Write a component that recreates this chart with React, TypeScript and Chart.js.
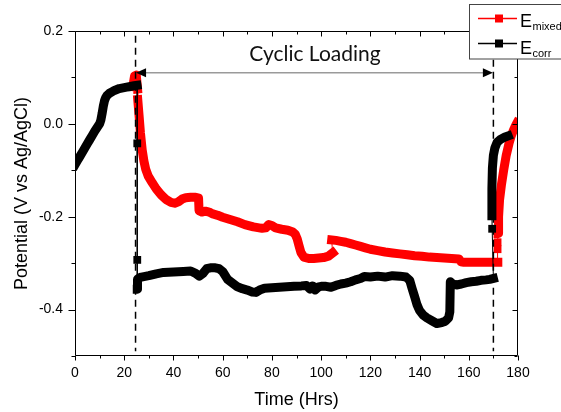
import React, { useEffect, useRef } from "react";
import { Chart, registerables } from "chart.js";

Chart.register(...registerables);

// ---------- axes ----------
const X_TICKS = [0, 20, 40, 60, 80, 100, 120, 140, 160, 180];
const X_MINOR = [10, 30, 50, 70, 90, 110, 130, 150, 170];
const Y_TICKS = [-0.4, -0.2, 0.0, 0.2];
const Y_MINOR = [-0.5, -0.3, -0.1, 0.1];
const X_MIN = 0;
const X_MAX = 180;
const Y_MIN = -0.5;
const Y_MAX = 0.2;

// ---------- annotations ----------
const LOAD_START = 24.6;
const LOAD_END = 170;
const DASH_TOP = 0.19;
const DASH_BOTTOM = -0.49;
const ARROW_Y = 0.11;
const LABEL_X = 97.5;
const LABEL_Y = 0.151;
const LABEL_TEXT = "Cyclic Loading";

// ---------- E_corr (black) ----------
const corrT1 = [0, 1, 2, 3, 4, 5, 6, 7, 8, 9, 10, 10.5, 11, 11.5, 12, 12.5, 13, 14, 15, 16, 17, 18, 19, 20, 21, 22, 23, 24, 25.2];
const corrV1 = [-0.088, -0.079, -0.07, -0.061, -0.052, -0.043, -0.034, -0.025, -0.016, -0.008, 0.0, 0.008, 0.022, 0.038, 0.05, 0.057, 0.061, 0.066, 0.069, 0.072, 0.074, 0.076, 0.077, 0.078, 0.079, 0.08, 0.081, 0.082, 0.083];

const corrDropAT = [25.2, 25.3, 25.3, 25.3];
const corrDropAV = [0.083, -0.042, -0.293, -0.335];
const corrDropAMarks = [1, 2];

const corrT2 = [25.3, 25.4, 26, 27, 28, 30, 33, 36, 40, 44, 47, 49, 50.5, 52, 53.5, 55, 57, 58.5, 60, 62, 64, 66, 68, 70, 72, 73.5, 75, 77, 80, 83, 86, 89, 92, 94, 95.5, 96.5, 97.5, 99, 100, 102, 104, 106, 108, 110, 112, 114, 116, 117.5, 120, 123, 126, 129, 132, 134.5, 136, 137, 138, 139, 140, 141.5, 143, 145, 147, 149, 150.5, 151.8, 152.3, 152.5, 153.5, 155, 157, 159, 161, 163, 165, 167, 168.5, 170];
const corrV2 = [-0.356, -0.335, -0.332, -0.33, -0.329, -0.327, -0.323, -0.32, -0.319, -0.318, -0.317, -0.322, -0.328, -0.322, -0.312, -0.31, -0.31, -0.312, -0.318, -0.335, -0.343, -0.351, -0.355, -0.358, -0.362, -0.363, -0.358, -0.354, -0.353, -0.352, -0.351, -0.35, -0.349, -0.348, -0.356, -0.349, -0.358, -0.351, -0.35, -0.35, -0.352, -0.348, -0.345, -0.343, -0.34, -0.336, -0.333, -0.329, -0.33, -0.328, -0.33, -0.327, -0.328, -0.33, -0.337, -0.355, -0.372, -0.39, -0.402, -0.412, -0.418, -0.424, -0.43, -0.428, -0.425, -0.418, -0.405, -0.34, -0.345, -0.347, -0.345, -0.342, -0.34, -0.339, -0.337, -0.336, -0.335, -0.333];

const corrDropBT = [170, 169.5, 169.4];
const corrDropBV = [-0.333, -0.226, -0.198];
const corrDropBMarks = [1];

const corrT3 = [169.4, 169.4, 169.6, 170, 170.6, 171.5, 173, 174.5, 176];
const corrV3 = [-0.198, -0.14, -0.095, -0.068, -0.052, -0.04, -0.033, -0.029, -0.026];

// ---------- E_mixed (red) ----------
const mixedT1 = [23.5, 24.2, 24.9, 25.4];
const mixedV1 = [0.08, 0.103, 0.105, 0.075];

const mixedJumpAT = [25.4, 25.5];
const mixedJumpAV = [0.075, 0.052];

const mixedT2 = [25.5, 26, 26.6, 27.3, 28, 28.7, 29.7, 31.4, 33, 35, 37, 39, 40.5, 42, 43.5, 45, 47, 49, 50.2, 50.4, 51.5, 53, 54.5, 56, 58, 60, 63, 66, 69, 72.5, 76, 77.5, 78.7, 80, 81.5, 84, 86.5, 88.5, 89.5, 90.3, 91, 91.8, 93, 95, 97, 99, 101, 103, 104.7];
const mixedV2 = [0.052, 0.02, -0.02, -0.056, -0.08, -0.097, -0.112, -0.127, -0.14, -0.153, -0.163, -0.169, -0.171, -0.168, -0.162, -0.159, -0.158, -0.158, -0.16, -0.187, -0.19, -0.188, -0.19, -0.194, -0.197, -0.201, -0.206, -0.211, -0.217, -0.222, -0.225, -0.224, -0.217, -0.219, -0.224, -0.227, -0.229, -0.233, -0.238, -0.248, -0.262, -0.277, -0.287, -0.29, -0.29, -0.289, -0.288, -0.285, -0.278];

const mixedJumpBT = [104.7, 104.5, 104.3];
const mixedJumpBV = [-0.278, -0.265, -0.25];

const mixedT3 = [104.3, 106, 108, 110, 112, 114, 116, 118, 120, 123, 126, 129, 132, 135, 138, 141, 144, 147, 150, 153, 156, 156.8, 158, 161, 164, 167, 170, 171.8];
const mixedV3 = [-0.25, -0.251, -0.253, -0.255, -0.258, -0.261, -0.264, -0.267, -0.27, -0.273, -0.276, -0.278, -0.28, -0.282, -0.284, -0.285, -0.287, -0.288, -0.289, -0.29, -0.291, -0.297, -0.298, -0.298, -0.298, -0.298, -0.298, -0.298];

const mixedJumpCT = [171.8, 171.7, 171.7, 171.9];
const mixedJumpCV = [-0.298, -0.27, -0.255, -0.236];
const mixedJumpCMarks = [1, 2];

const mixedT4 = [171.9, 172.1, 172.5, 173.3, 174.2, 175.2, 176.4, 177.3, 178.2, 179, 179.6];
const mixedV4 = [-0.236, -0.2, -0.164, -0.13, -0.099, -0.068, -0.041, -0.025, -0.013, -0.004, 0.002];

// ---------- styling ----------
const RED = "#ff0000";
const BLACK = "#000000";
const FONT = "'Liberation Sans', Arial, sans-serif";
const BAND = 9;
const MARK_R = 5.5;

const pts = (t: number[], v: number[]) => t.map((x, i) => ({ x, y: v[i] }));

const dense = (t: number[], v: number[], color: string, order: number) => ({
  data: pts(t, v),
  borderColor: color,
  backgroundColor: color,
  borderWidth: BAND,
  pointRadius: 0,
  borderJoinStyle: "round",
  borderCapStyle: "square",
  tension: 0,
  fill: false,
  order,
});

const sparse = (t: number[], v: number[], marks: number[], color: string, order: number) => ({
  data: pts(t, v),
  borderColor: color,
  backgroundColor: color,
  borderWidth: 1,
  pointRadius: t.map((_, i) => (marks.includes(i) ? MARK_R : 0)),
  pointStyle: "rect",
  pointBackgroundColor: color,
  pointBorderColor: color,
  pointBorderWidth: 0,
  tension: 0,
  fill: false,
  order,
});

const decor = {
  id: "decor",
  afterDatasetsDraw(chart: any) {
    const { ctx, scales } = chart;
    const x = scales.x;
    const y = scales.y;
    ctx.save();
    ctx.strokeStyle = BLACK;
    ctx.lineWidth = 1.5;
    ctx.setLineDash([7, 5]);
    for (const t of [LOAD_START, LOAD_END]) {
      const px = x.getPixelForValue(t);
      ctx.beginPath();
      ctx.moveTo(px, y.getPixelForValue(DASH_TOP));
      ctx.lineTo(px, y.getPixelForValue(DASH_BOTTOM));
      ctx.stroke();
    }
    ctx.restore();
  },
  afterDraw(chart: any) {
    const { ctx, chartArea: ca, scales } = chart;
    const x = scales.x;
    const y = scales.y;
    ctx.save();
    // frame
    ctx.strokeStyle = BLACK;
    ctx.lineWidth = 1;
    const L = Math.round(ca.left) + 0.5;
    const R = Math.round(ca.right) - 0.5;
    const T = Math.round(ca.top) + 0.5;
    const B = Math.round(ca.bottom) - 0.5;
    ctx.beginPath();
    ctx.rect(L, T, R - L, B - T);
    ctx.stroke();
    // ticks
    ctx.beginPath();
    const xt = (vals: number[], len: number) => {
      for (const v of vals) {
        const px = Math.round(x.getPixelForValue(v)) + 0.5;
        ctx.moveTo(px, B);
        ctx.lineTo(px, B + len);
        ctx.moveTo(px, T);
        ctx.lineTo(px, T + len);
      }
    };
    const yt = (vals: number[], len: number, inLen: number) => {
      for (const v of vals) {
        const py = Math.round(y.getPixelForValue(v)) + 0.5;
        ctx.moveTo(L, py);
        ctx.lineTo(L - len, py);
        ctx.moveTo(R, py);
        ctx.lineTo(R - inLen, py);
      }
    };
    xt(X_TICKS, 5);
    xt(X_MINOR, 3);
    yt(Y_TICKS, 7, 5);
    yt(Y_MINOR, 4, 3);
    ctx.stroke();

    // arrow
    const xl = x.getPixelForValue(LOAD_START);
    const xr = x.getPixelForValue(LOAD_END);
    const ya = y.getPixelForValue(ARROW_Y);
    ctx.strokeStyle = "#9a9a9a";
    ctx.lineWidth = 1.5;
    ctx.beginPath();
    ctx.moveTo(xl + 8, ya);
    ctx.lineTo(xr - 8, ya);
    ctx.stroke();
    ctx.fillStyle = BLACK;
    ctx.beginPath();
    ctx.moveTo(xl + 0.5, ya);
    ctx.lineTo(xl + 10.5, ya - 4.5);
    ctx.lineTo(xl + 10.5, ya + 4.5);
    ctx.closePath();
    ctx.fill();
    ctx.beginPath();
    ctx.moveTo(xr - 0.5, ya);
    ctx.lineTo(xr - 10.5, ya - 4.5);
    ctx.lineTo(xr - 10.5, ya + 4.5);
    ctx.closePath();
    ctx.fill();

    // label
    ctx.fillStyle = "#111";
    ctx.font = "21px Lato, 'Open Sans', sans-serif";
    ctx.textAlign = "center";
    ctx.textBaseline = "middle";
    ctx.fillText(LABEL_TEXT, x.getPixelForValue(LABEL_X), y.getPixelForValue(LABEL_Y));

    // legend
    ctx.fillStyle = "#fff";
    ctx.fillRect(469.5, 4.5, 100, 54.5);
    ctx.strokeStyle = "#444";
    ctx.lineWidth = 1;
    ctx.strokeRect(469.5, 4.5, 100, 54.5);
    const entries = [
      { color: RED, main: "E", sub: "mixed", ly: 18.5, base: 26.5 },
      { color: BLACK, main: "E", sub: "corr", ly: 43.5, base: 53.5 },
    ];
    for (const e of entries) {
      ctx.strokeStyle = e.color;
      ctx.lineWidth = 1.3;
      ctx.beginPath();
      ctx.moveTo(478, e.ly);
      ctx.lineTo(517, e.ly);
      ctx.stroke();
      ctx.fillStyle = e.color;
      ctx.fillRect(495, e.ly - 4, 8, 8);
      ctx.fillStyle = BLACK;
      ctx.textAlign = "left";
      ctx.textBaseline = "alphabetic";
      ctx.font = `18px ${FONT}`;
      ctx.fillText(e.main, 520, e.base);
      const w = ctx.measureText(e.main).width;
      ctx.font = `11px ${FONT}`;
      ctx.fillText(e.sub, 520 + w + 0.5, e.base + 3);
    }
    ctx.restore();
  },
};

export default function App() {
  const ref = useRef<HTMLCanvasElement | null>(null);
  useEffect(() => {
    if (!ref.current) return;
    const datasets: any[] = [
      dense(corrT1, corrV1, BLACK, 0),
      sparse(corrDropAT, corrDropAV, corrDropAMarks, BLACK, 0),
      dense(corrT2, corrV2, BLACK, 0),
      sparse(corrDropBT, corrDropBV, corrDropBMarks, BLACK, 0),
      dense(corrT3, corrV3, BLACK, 0),
      dense(mixedT1, mixedV1, RED, 1),
      sparse(mixedJumpAT, mixedJumpAV, [], RED, 1),
      dense(mixedT2, mixedV2, RED, 1),
      sparse(mixedJumpBT, mixedJumpBV, [], RED, 1),
      dense(mixedT3, mixedV3, RED, 1),
      sparse(mixedJumpCT, mixedJumpCV, mixedJumpCMarks, RED, 1),
      dense(mixedT4, mixedV4, RED, 1),
    ];
    const chart = new Chart(ref.current, {
      type: "line",
      data: { datasets },
      options: {
        animation: false,
        responsive: false,
        devicePixelRatio: 1,
        events: [],
        layout: { padding: { top: 31, right: 43, left: 0, bottom: 0 } },
        plugins: { legend: { display: false }, tooltip: { enabled: false } },
        scales: {
          x: {
            type: "linear",
            min: X_MIN,
            max: X_MAX,
            afterBuildTicks: (s: any) => {
              s.ticks = X_TICKS.map((v) => ({ value: v }));
            },
            afterFit: (s: any) => {
              s.height = 56;
            },
            grid: { display: false, drawTicks: false },
            border: { display: false },
            ticks: {
              font: { family: FONT, size: 14 },
              color: "#000",
              padding: 9,
              maxRotation: 0,
              autoSkip: false,
            },
            title: {
              display: true,
              text: "Time (Hrs)",
              font: { family: FONT, size: 18 },
              color: "#000",
              padding: { top: 0, bottom: 1 },
            },
          },
          y: {
            type: "linear",
            min: Y_MIN,
            max: Y_MAX,
            afterBuildTicks: (s: any) => {
              s.ticks = Y_TICKS.map((v) => ({ value: v }));
            },
            afterFit: (s: any) => {
              s.width = 75;
            },
            grid: { display: false, drawTicks: false },
            border: { display: false },
            ticks: {
              font: { family: FONT, size: 14 },
              color: "#000",
              padding: 12,
              callback: (v: any) => Number(v).toFixed(1),
            },
            title: {
              display: true,
              text: "Potential (V vs Ag/AgCl)",
              font: { family: FONT, size: 18 },
              color: "#000",
              padding: { top: 11, bottom: 0 },
            },
          },
        },
      } as any,
      plugins: [decor],
    });
    return () => chart.destroy();
  }, []);
  return (
    <div style={{ position: "fixed", left: 0, top: 0, width: 561, height: 412, background: "#fff" }}>
      <canvas ref={ref} width={561} height={412} style={{ display: "block" }} />
    </div>
  );
}
